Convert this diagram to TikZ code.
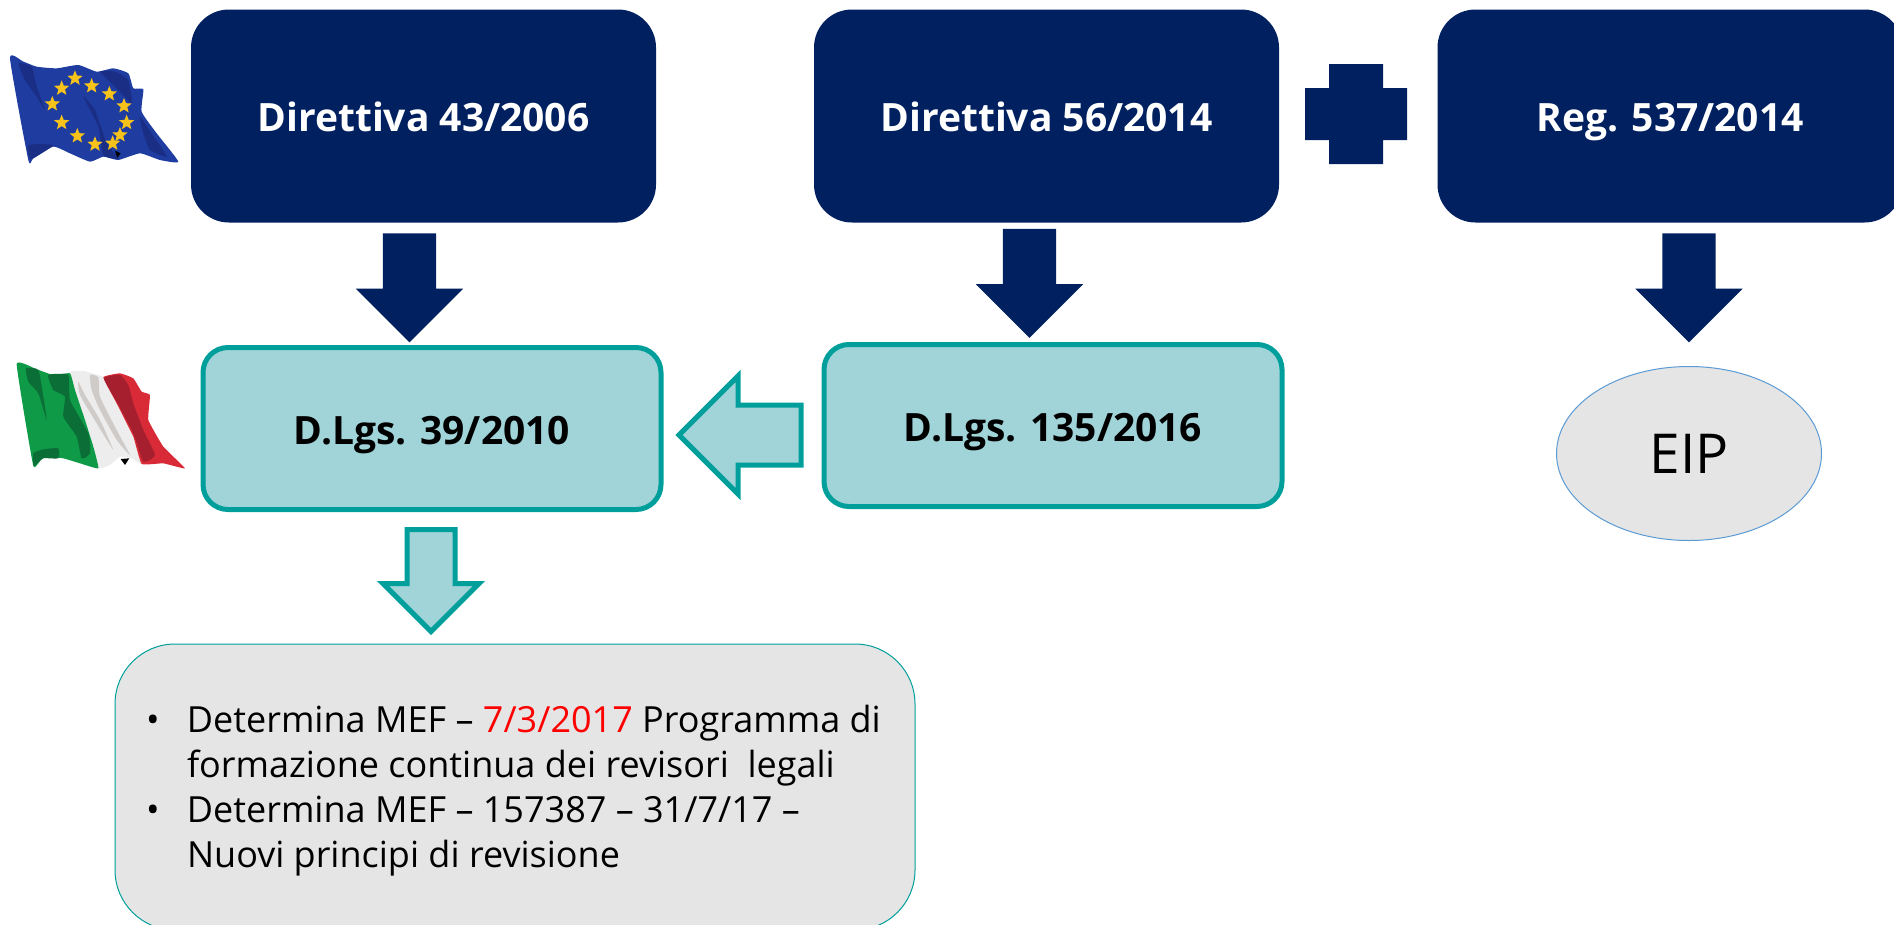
\documentclass[tikz,border=0pt]{standalone}
\usepackage{fontspec}
\setmainfont{Open Sans}
\usetikzlibrary{shapes.geometric,shapes.arrows}
\definecolor{navy}{HTML}{002060}
\definecolor{tealline}{HTML}{009F9B}
\definecolor{tealfill}{HTML}{A0D4D9}
\definecolor{softgrey}{HTML}{E5E5E5}
\definecolor{eipline}{HTML}{5B9BD5}
\definecolor{eublue}{HTML}{1F3DA0}
\definecolor{eudark}{HTML}{1A2E85}
\definecolor{starcol}{HTML}{F7C21A}
\definecolor{itgreen}{HTML}{0E9A47}
\definecolor{itdark}{HTML}{0B6E36}
\definecolor{itgrey}{HTML}{CFCBC8}
\definecolor{itred}{HTML}{D92B37}
\definecolor{itdeep}{HTML}{A51F2E}
\begin{document}
\begin{tikzpicture}[x=1pt,y=-1pt,inner sep=0pt,outer sep=0pt,
eublock/.style={draw=none,fill=navy,rectangle,rounded corners=38pt,minimum width=465pt,minimum height=213pt,text=white,text height=30pt,text depth=0pt,font=\fontsize{39}{44}\selectfont\bfseries},
itblock/.style={draw=tealline,fill=tealfill,line width=5pt,rectangle,rounded corners=25pt,minimum width=458pt,minimum height=162pt,text height=31pt,text depth=0pt,font=\fontsize{39}{44}\selectfont\bfseries},
darrow/.style={single arrow,fill=navy,shape border rotate=270,inner sep=26.5pt,single arrow head extend=27pt,single arrow head indent=0pt,minimum height=109pt},
tarrow/.style={single arrow,draw=tealline,fill=tealfill,line width=5pt,single arrow head indent=0pt}]

\useasboundingbox (0,0) rectangle (1894,924);

\draw (423.5,116) node[eublock] (dir43) {Direttiva 43/2006};
\draw (1046.5,116) node[eublock] (dir56) {Direttiva 56/2014};
\draw (1670,116) node[eublock] (reg537) {Reg. 537/2014};
\fill[navy] (1329,64) -- (1383,64) -- (1383,88) -- (1407,88) -- (1407,140) -- (1383,140) -- (1383,164) -- (1329,164) -- (1329,140) -- (1305,140) -- (1305,88) -- (1329,88) -- cycle;

\draw (409.5,274.5) node[darrow] (down43) {};
\draw (1029.5,270) node[darrow] (down56) {};
\draw (1689,274.5) node[darrow] (downreg) {};

\draw (432,428.5) node[itblock] (lgs39) {D.Lgs. 39/2010};
\draw (1053,425.5) node[itblock] (lgs135) {D.Lgs. 135/2016};
\draw (1689,453.5) node[draw=eipline,fill=softgrey,line width=1pt,ellipse,minimum width=265pt,minimum height=174pt,font=\fontsize{55}{60}\selectfont] (eip) {EIP};

\draw (755,435) node[tarrow,shape border rotate=180,inner sep=27.5pt,single arrow head extend=29pt,minimum height=122pt] (left135) {};
\draw (431,568.5) node[tarrow,shape border rotate=270,inner sep=21.5pt,single arrow head extend=24pt,minimum height=102pt] (down39) {};

\draw (515,787) node[draw=tealline,fill=softgrey,line width=1pt,rectangle,rounded corners=60pt,minimum width=800pt,minimum height=286pt] (mefbox) {};
\draw (146,867) node[anchor=base west,align=left,font=\fontsize{36}{45}\selectfont] (meftext) {\makebox[41pt][l]{\textbullet}Determina MEF – \textcolor{red}{7/3/2017} Programma di\\
\makebox[41pt][l]{}formazione continua dei revisori\ \ legali\\
\makebox[41pt][l]{\textbullet}Determina MEF – 157387 – 31/7/17 –\\
\makebox[41pt][l]{}Nuovi principi di revisione};

\begin{scope}[shift={(0,30)},x=0.3333pt,y=-0.3333pt]
\fill[eublue] plot[smooth cycle,tension=0.3] coordinates {(30,85) (70,95) (110,110) (170,115) (235,105) (290,125) (340,115) (385,130) (400,175) (430,178) (425,245) (470,310) (535,395) (480,390) (420,370) (355,390) (310,380) (270,395) (210,370) (160,350) (100,385) (85,390)};
\fill[eudark] plot[smooth cycle,tension=0.3] coordinates {(55,100) (95,110) (110,170) (135,240) (110,200) (75,150)};
\fill[eudark] plot[smooth cycle,tension=0.3] coordinates {(85,345) (160,345) (100,385) (90,385)};
\fill[eudark] plot[smooth cycle,tension=0.3] coordinates {(250,200) (285,240) (320,340) (355,385) (310,375) (295,290)};
\fill[eudark] plot[smooth cycle,tension=0.3] coordinates {(300,125) (345,125) (385,150) (395,220) (345,170)};
\fill[eudark] plot[smooth cycle,tension=0.3] coordinates {(420,260) (455,310) (500,380) (450,360) (430,310)};
\fill[black] (345,362) -- (362,370) -- (352,384) -- cycle;
\foreach \sx/\sy [count=\i] in {157/222,185/175,225/145,275/168,328/192,372/228,380/278,360/315,338/340,285/343,232/318,185/278}
  \node[star,star points=5,star point ratio=2.3,fill=starcol,minimum size=16pt] (eustar\i) at (\sx,\sy) {};
\end{scope}

\begin{scope}[shift={(0,340)},x=0.3333pt,y=-0.3333pt]
\fill[white!93!black] plot[smooth cycle,tension=0.2] coordinates {(205,100) (250,93) (310,112) (350,190) (400,290) (425,372) (395,355) (360,350) (330,375) (295,385) (280,320) (255,240)};
\fill[itgrey] plot[smooth cycle,tension=0.3] coordinates {(270,105) (295,112) (300,170) (350,270) (390,345) (350,300) (300,210) (275,150)};
\fill[itgrey] plot[smooth cycle,tension=0.3] coordinates {(235,125) (255,165) (300,240) (340,330) (290,250) (240,165)};
\fill[itgreen] plot[smooth cycle,tension=0.2] coordinates {(50,72) (110,88) (160,105) (210,100) (225,150) (255,240) (280,320) (295,385) (240,370) (190,355) (130,350) (100,378)};
\fill[itdark] plot[smooth cycle,tension=0.3] coordinates {(78,85) (115,90) (130,170) (140,240) (115,160) (85,125)};
\fill[itdark] plot[smooth cycle,tension=0.3] coordinates {(145,105) (205,105) (210,180) (265,280) (270,340) (245,355) (230,290) (190,230) (195,170) (160,150)};
\fill[itdark] plot[smooth cycle,tension=0.3] coordinates {(100,340) (130,328) (175,325) (175,355) (130,355) (102,378)};
\fill[itred] plot[smooth cycle,tension=0.2] coordinates {(310,112) (360,100) (400,115) (425,155) (450,165) (445,240) (490,320) (555,385) (490,370) (425,372) (400,290) (350,190)};
\fill[itdeep] plot[smooth cycle,tension=0.3] coordinates {(312,115) (360,105) (385,135) (400,190) (430,270) (465,345) (430,365) (400,280) (350,185)};
\fill[black] (362,357) -- (388,355) -- (375,375) -- cycle;
\end{scope}

\end{tikzpicture}
\end{document}
